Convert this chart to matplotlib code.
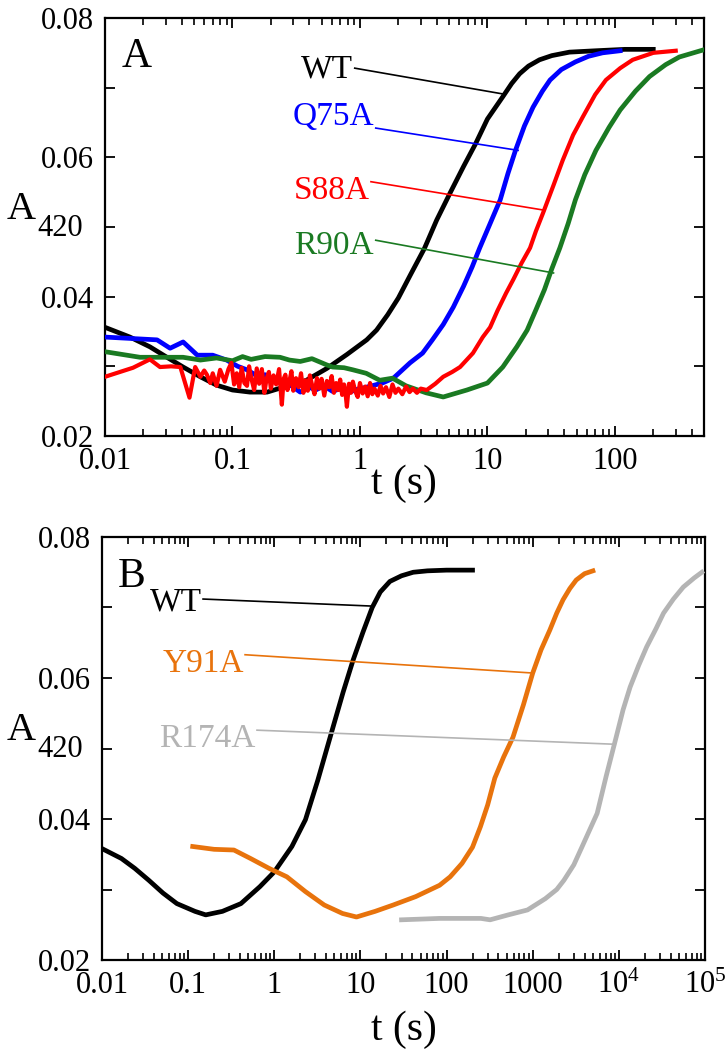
import numpy as np
import matplotlib
matplotlib.use("Agg")
import matplotlib.pyplot as plt
from matplotlib.ticker import LogLocator, NullFormatter, FixedLocator

plt.rcParams['font.family'] = ['Liberation Serif', 'DejaVu Serif']
plt.rcParams['mathtext.fontset'] = 'custom'
plt.rcParams['mathtext.rm'] = 'Liberation Serif'

# ---------------- panel A data (t in s, A420) ----------------
wt_a_t = [0.01, 0.0157, 0.0225, 0.0306, 0.041, 0.056, 0.075, 0.1, 0.137, 0.187, 0.25, 0.38,
          0.55, 0.79, 1.13, 1.35, 1.65, 2.0, 2.5, 3.2, 4.0, 5.1, 6.5, 8.1, 10, 13.2, 15.5,
          17.9, 21, 25.6, 32, 44, 71, 120, 200]
wt_a_y = [0.0356, 0.0342, 0.0328, 0.0313, 0.0299, 0.0285, 0.0273, 0.0266, 0.0263, 0.0263,
          0.0270, 0.0280, 0.0297, 0.0317, 0.0338, 0.0352, 0.0374, 0.0398, 0.0432, 0.0469,
          0.0510, 0.0549, 0.0587, 0.0620, 0.0655, 0.0687, 0.0706, 0.0720, 0.0731, 0.0740,
          0.0746, 0.0751, 0.0753, 0.0755, 0.0755]

q75a_t = [0.01, 0.0256, 0.0324, 0.041, 0.053, 0.07, 0.09, 0.11, 0.13, 0.16, 0.18, 0.22, 0.27,
          0.34, 0.4, 0.45, 0.52, 0.61, 0.7, 0.8, 0.95, 1.12, 1.5, 1.83, 2.47, 3.1, 3.7, 4.5,
          5.4, 6.5, 7.6, 8.7, 10.5, 12.6, 14.5, 16.6, 19.5, 22.8, 27, 31, 38, 49, 62, 80, 110]
q75a_y = [0.0342, 0.0338, 0.0326, 0.0335, 0.0316, 0.0316, 0.0309, 0.0300, 0.0295, 0.0285,
          0.0288, 0.0278, 0.0276, 0.0263, 0.0270, 0.0266, 0.0272, 0.0264, 0.0268, 0.0262,
          0.0267, 0.0270, 0.0276, 0.0283, 0.0305, 0.0319, 0.0338, 0.0360, 0.0385, 0.0415,
          0.0443, 0.0470, 0.0505, 0.0539, 0.0577, 0.0610, 0.0645, 0.0672, 0.0695, 0.0711,
          0.0726, 0.0737, 0.0745, 0.0750, 0.0753]

s88a_t = [0.01, 0.0166, 0.0225, 0.027, 0.033, 0.039, 0.046, 0.051, 0.056, 0.060, 0.063,
          0.067, 0.070, 0.075, 0.080, 0.087, 0.093, 0.098, 0.103, 0.108, 0.113, 0.118, 0.124,
          0.13, 0.135, 0.14, 0.148, 0.155, 0.162, 0.17, 0.178, 0.185, 0.193, 0.2, 0.21, 0.22,
          0.232, 0.244, 0.252, 0.26, 0.27, 0.28, 0.29, 0.30, 0.315, 0.33, 0.345, 0.36, 0.375,
          0.39, 0.405, 0.42, 0.44, 0.46, 0.48, 0.5, 0.525, 0.55, 0.575, 0.6, 0.625, 0.65,
          0.675, 0.7, 0.725, 0.75, 0.77, 0.79, 0.82, 0.85, 0.88, 0.92, 0.96, 1.0, 1.05, 1.1,
          1.15, 1.2, 1.25, 1.3, 1.38, 1.45, 1.52, 1.6, 1.7, 1.8, 1.9, 2.0, 2.15, 2.3, 2.45,
          2.6, 2.8, 3.0, 3.34, 3.9, 4.5, 5.3, 6.1, 7.7, 9.2, 10.5, 12, 14, 16, 18.5, 21.6,
          24, 27.3, 33, 39, 47, 56, 70, 85, 110, 138, 200, 300]
s88a_y = [0.0285, 0.0298, 0.0310, 0.0299, 0.0300, 0.0299, 0.0255, 0.0299, 0.0285, 0.0294,
          0.0288, 0.0276, 0.0290, 0.0272, 0.0295, 0.0278, 0.0296, 0.0305, 0.0274, 0.0290,
          0.0270, 0.0298, 0.0276, 0.0272, 0.0300, 0.0284, 0.0266, 0.0297, 0.0275, 0.0296,
          0.0262, 0.0282, 0.0292, 0.0268, 0.0287, 0.0274, 0.0296, 0.0245, 0.0282, 0.0288,
          0.0266, 0.0279, 0.0293, 0.0265, 0.0283, 0.0270, 0.0290, 0.0262, 0.0280, 0.0265,
          0.0287, 0.0274, 0.0260, 0.0283, 0.0268, 0.0282, 0.0258, 0.0279, 0.0270, 0.0286,
          0.0262, 0.0276, 0.0266, 0.0281, 0.0259, 0.0274, 0.0262, 0.0242, 0.0275, 0.0262,
          0.0278, 0.0264, 0.0256, 0.0276, 0.0261, 0.0271, 0.0257, 0.0276, 0.0260, 0.0268,
          0.0258, 0.0272, 0.0261, 0.0270, 0.0256, 0.0274, 0.0262, 0.0268, 0.0260, 0.0271,
          0.0263, 0.0268, 0.0262, 0.0268, 0.0266, 0.0275, 0.0285, 0.0292, 0.0299, 0.0319,
          0.0342, 0.0356, 0.0380, 0.0405, 0.0425, 0.0448, 0.0470, 0.0494, 0.0520, 0.0560,
          0.0596, 0.0632, 0.0658, 0.0690, 0.0711, 0.0728, 0.0740, 0.0750, 0.0753]

r90a_t = [0.01, 0.0188, 0.041, 0.056, 0.075, 0.1, 0.12, 0.14, 0.18, 0.236, 0.28, 0.34, 0.42,
          0.55, 0.61, 0.75, 0.88, 1.12, 1.43, 1.8, 2.3, 3.3, 4.5, 6.9, 10, 13.2, 17, 20.5, 24,
          28, 32, 37, 43, 49, 58, 71, 90, 110, 145, 187, 250, 320, 490]
r90a_y = [0.0321, 0.0313, 0.0313, 0.0309, 0.0312, 0.0308, 0.0314, 0.0310, 0.0314, 0.0313,
          0.0309, 0.0307, 0.0311, 0.0302, 0.0299, 0.0298, 0.0295, 0.0290, 0.0280, 0.0283,
          0.0272, 0.0262, 0.0256, 0.0266, 0.0276, 0.0299, 0.0328, 0.0352, 0.0381, 0.0410,
          0.0440, 0.0470, 0.0505, 0.0539, 0.0575, 0.0610, 0.0643, 0.0668, 0.0695, 0.0716,
          0.0733, 0.0744, 0.0754]

# ---------------- panel B data ----------------
wt_b_t = [0.01, 0.0168, 0.024, 0.035, 0.051, 0.074, 0.12, 0.16, 0.25, 0.41, 0.68, 1.0, 1.6,
          2.3, 3.2, 4.8, 6.3, 8.2, 10.7, 13.7, 17, 22, 30, 41, 60, 100, 200]
wt_b_y = [0.0358, 0.0344, 0.0330, 0.0313, 0.0295, 0.0280, 0.0269, 0.0264, 0.0269, 0.0280,
          0.0304, 0.0325, 0.0361, 0.0399, 0.0455, 0.0530, 0.0580, 0.0625, 0.0665, 0.0700,
          0.0722, 0.0737, 0.0745, 0.0750, 0.0752, 0.0753, 0.0753]

y91a_t = [0.113, 0.2, 0.34, 0.53, 0.87, 1.4, 2.3, 3.8, 6.2, 9, 14.8, 24, 44, 83, 110, 151,
          200, 247, 300, 363, 460, 590, 780, 1000, 1250, 1580, 1900, 2250, 2700, 3200, 4000,
          5000]
y91a_y = [0.0361, 0.0357, 0.0356, 0.0344, 0.0330, 0.0318, 0.0297, 0.0278, 0.0266, 0.0261,
          0.0269, 0.0278, 0.0290, 0.0306, 0.0318, 0.0337, 0.0360, 0.0389, 0.0420, 0.0458,
          0.0488, 0.0516, 0.0562, 0.0607, 0.0640, 0.0668, 0.0692, 0.0711, 0.0727, 0.0739,
          0.0748, 0.0752]

r174a_t = [30, 83, 250, 320, 520, 870, 1400, 1900, 2300, 3000, 3750, 4600, 5600, 7100, 9300,
           11200, 13500, 17000, 21000, 27000, 33000, 43000, 56000, 75000, 92000]
r174a_y = [0.0257, 0.0259, 0.0259, 0.0257, 0.0264, 0.0271, 0.0287, 0.0300, 0.0313, 0.0335,
           0.0361, 0.0385, 0.0408, 0.0460, 0.0516, 0.0555, 0.0587, 0.0618, 0.0644, 0.0670,
           0.0692, 0.0712, 0.0729, 0.0742, 0.0750]

# label text, label-line start (t, A) and end (t, A), text baseline
labels_a = [("WT", "black", (0.91, 0.0728), (13.2, 0.0691), 0.0714),
            ("Q75A", "#0000ff", (1.33, 0.0642), (17.4, 0.0610), 0.0646),
            ("S88A", "#ff0000", (1.22, 0.0565), (28.2, 0.0524), 0.0540),
            ("R90A", "#1a7a22", (1.33, 0.0481), (33, 0.0434), 0.0461)]
labels_b = [("WT", "black", (0.149, 0.0712), (13.7, 0.0702), 0.0696),
            ("Y91A", "#e8730c", (0.458, 0.0633), (1014, 0.0607), 0.0609),
            ("R174A", "#b4b4b4", (0.63, 0.0526), (9080, 0.0506), 0.0502)]

W, H = 726, 1050
fig = plt.figure(figsize=(W / 100, H / 100), dpi=100)

def px_axes(l, t, r, b):
    return fig.add_axes([l / W, 1 - b / H, (r - l) / W, (b - t) / H])

def style(ax, xmax, xticks, xlabels):
    ax.set_xscale("log")
    ax.set_xlim(0.01, xmax)
    ax.set_ylim(0.02, 0.08)
    ax.xaxis.set_major_locator(FixedLocator(xticks))
    ax.set_xticklabels(xlabels)
    ax.xaxis.set_minor_locator(LogLocator(base=10, subs=np.arange(2, 10), numticks=50))
    ax.xaxis.set_minor_formatter(NullFormatter())
    yt = [0.02, 0.03, 0.04, 0.05, 0.06, 0.07, 0.08]
    ax.set_yticks(yt)
    ax.set_yticklabels(["0.02", "", "0.04", "", "0.06", "", "0.08"])
    ax.tick_params(which="both", direction="in", top=True, right=True, labelsize=22, pad=8)
    ax.tick_params(which="major", length=7, width=1.3)
    ax.tick_params(which="minor", length=5, width=1.2)
    for s in ax.spines.values():
        s.set_linewidth(1.6)

# ---- panel A ----
ax1 = px_axes(105, 18, 704, 436)
style(ax1, 500, [0.01, 0.1, 1, 10, 100], ["0.01", "0.1", "1", "10", "100"])
ax1.plot(wt_a_t, wt_a_y, color="black", lw=3.4, zorder=3)
ax1.plot(q75a_t, q75a_y, color="#0000ff", lw=3.4, zorder=4)
ax1.plot(r90a_t, r90a_y, color="#1a7a22", lw=3.4, zorder=5)
ax1.plot(s88a_t, s88a_y, color="#ff0000", lw=3.0, zorder=6)
for name, col, p0, p1, base in labels_a:
    ax1.plot([p0[0], p1[0]], [p0[1], p1[1]], color=col, lw=1.2, zorder=7)
    ax1.text(p0[0] * 0.97, base, name, color=col, fontsize=24, ha="right", va="baseline")
ax1.text(0.0136, 0.0730, "A", fontsize=30, ha="left", va="baseline")

# ---- panel B ----
ax2 = px_axes(102, 537, 705, 960)
style(ax2, 1e5, [0.01, 0.1, 1, 10, 100, 1000, 1e4, 1e5],
      ["0.01", "0.1", "1", "10", "100", "1000", r"$\mathregular{10^4}$", r"$\mathregular{10^5}$"])
ax2.plot(wt_b_t, wt_b_y, color="black", lw=3.4, zorder=3)
ax2.plot(y91a_t, y91a_y, color="#e8730c", lw=3.4, zorder=4)
ax2.plot(r174a_t, r174a_y, color="#b4b4b4", lw=3.4, zorder=5)
for name, col, p0, p1, base in labels_b:
    ax2.plot([p0[0], p1[0]], [p0[1], p1[1]], color=col, lw=1.2, zorder=7)
    ax2.text(p0[0] * 0.97, base, name, color=col, fontsize=24, ha="right", va="baseline")
ax2.text(0.0153, 0.0729, "B", fontsize=30, ha="left", va="baseline")

# axis titles
for ybase in (219, 740):
    fig.text(36 / W, 1 - ybase / H, "A", fontsize=29, ha="right", va="baseline")
    fig.text(83 / W, 1 - (ybase + 17) / H, "420", fontsize=22, ha="right", va="baseline")
fig.text(404 / W, 1 - 484 / H, "t (s)", fontsize=30, ha="center", va="center")
fig.text(404 / W, 1 - 1030 / H, "t (s)", fontsize=30, ha="center", va="center")

fig.savefig("out.png", dpi=100)
